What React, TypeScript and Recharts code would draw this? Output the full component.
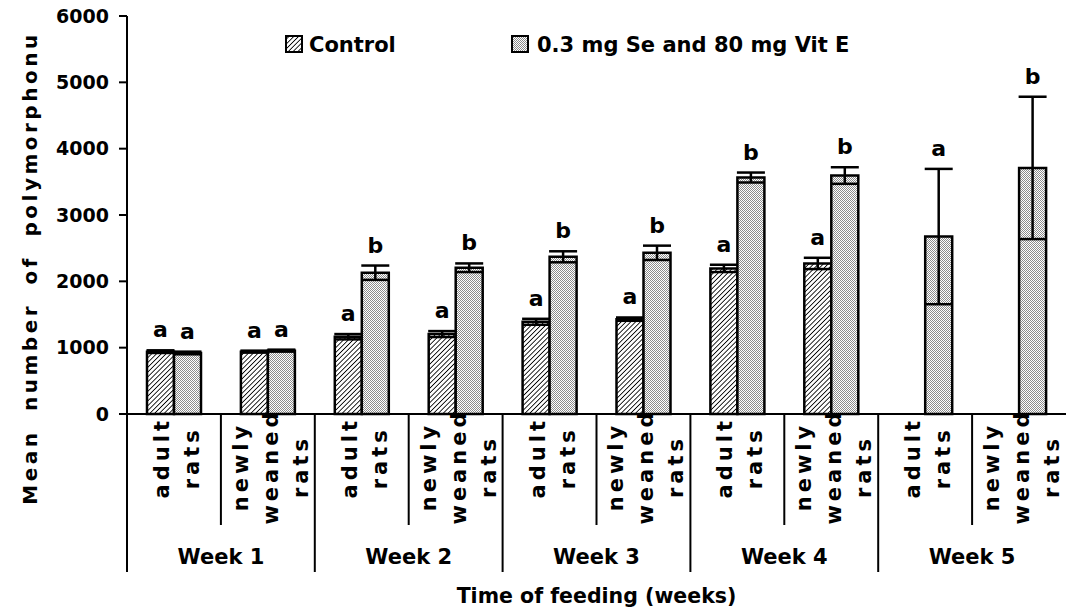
import React from 'react';
import { BarChart, Bar, XAxis, YAxis, ErrorBar, LabelList, Legend, Label } from 'recharts';

// the page has an 8px body margin by default, the chart should sit at 0,0
if (typeof document !== 'undefined') document.body.style.margin = '0';

const weeks = ['Week 1', 'Week 2', 'Week 3', 'Week 4', 'Week 5'];
const groups = ['adult rats', 'newly weaned rats'];

const control = [940, 940, 1165, 1205, 1390, 1430, 2195, 2270, null, null];
const controlErr = [20, 15, 40, 45, 45, 25, 55, 85, 0, 0];
const controlLetters = ['a', 'a', 'a', 'a', 'a', 'a', 'a', 'a', '', ''];

const treated = [920, 955, 2130, 2205, 2370, 2430, 3565, 3595, 2675, 3710];
const treatedErr = [20, 15, 108, 65, 83, 108, 75, 125, 1020, 1073];
const treatedLetters = ['a', 'a', 'b', 'b', 'b', 'b', 'b', 'b', 'a', 'b'];

const yTicks = [0, 1000, 2000, 3000, 4000, 5000, 6000];

const data = weeks.flatMap((week, wi) =>
  groups.map((group, gi) => {
    const i = wi * groups.length + gi;
    return {
      name: `${week}|${group}`,
      week,
      group,
      control: control[i],
      controlErr: controlErr[i],
      treated: treated[i],
      treatedErr: treatedErr[i],
    };
  })
);

const W = 1066;
const H = 612;
const Y_AXIS_W = 127;
const TOP = 16;
const X_AXIS_H = 198;
const FONT = '"DejaVu Sans", Verdana, sans-serif';
const BAND = (W - Y_AXIS_W) / data.length;

const CategoryTick = (props: any) => {
  const { x, y, payload } = props;
  const i = payload.index;
  const d = data[i];
  const left = x - BAND / 2;
  const lines = d.group.split(' ');
  const maxChars = Math.max(...lines.map((l: string) => l.length));
  const cy = y + (maxChars * 17.5) / 2;
  const isWeekStart = i % groups.length === 0;
  return (
    <g>
      <line
        x1={left}
        x2={left}
        y1={y}
        y2={isWeekStart ? y + 158 : y + 111}
        stroke="#000"
        strokeWidth={2}
      />
      {lines.map((line: string, j: number) => {
        const bx = x + 10 + (j - (lines.length - 1) / 2) * 30;
        return (
          <text
            key={j}
            x={bx}
            y={cy}
            transform={`rotate(-90 ${bx} ${cy})`}
            textAnchor="middle"
            fontFamily={FONT}
            fontWeight="bold"
            fontSize={21}
            letterSpacing={4}
            fill="#000"
          >
            {line}
          </text>
        );
      })}
      {!isWeekStart && (
        <text
          x={left}
          y={y + 150}
          textAnchor="middle"
          fontFamily={FONT}
          fontWeight="bold"
          fontSize={21}
          fill="#000"
        >
          {d.week}
        </text>
      )}
    </g>
  );
};

const letterContent = (values: (number | null)[], errs: number[], letters: string[]) => (props: any) => {
  const { x, y, width, height, index } = props;
  const v = values[index];
  if (!v || !letters[index]) return null;
  const errPx = (errs[index] * height) / v;
  return (
    <text
      x={x + width / 2}
      y={y - errPx - 13}
      textAnchor="middle"
      fontFamily={FONT}
      fontWeight="bold"
      fontSize={22}
      fill="#000"
    >
      {letters[index]}
    </text>
  );
};

const LegendContent = () => (
  <div style={{ position: 'relative', width: 600, height: 22, fontFamily: FONT, fontWeight: 'bold', fontSize: 21, lineHeight: '21px', whiteSpace: 'nowrap', color: '#000' }}>
    <svg width={18} height={18} style={{ position: 'absolute', left: 0, top: 0 }}>
      <rect x={1} y={1} width={16} height={16} fill="url(#hatch)" stroke="#000" strokeWidth={2} />
    </svg>
    <span style={{ position: 'absolute', left: 24, top: 0 }}>Control</span>
    <svg width={18} height={18} style={{ position: 'absolute', left: 226, top: 0 }}>
      <rect x={1} y={1} width={16} height={16} fill="url(#dots)" stroke="#000" strokeWidth={2} />
    </svg>
    <span style={{ position: 'absolute', left: 252, top: 0 }}>0.3 mg Se and 80 mg Vit E</span>
  </div>
);

export default function App() {
  return (
    <div style={{ width: W, height: H, background: '#fff' }}>
      <BarChart
        width={W}
        height={H}
        data={data}
        margin={{ top: TOP, right: 0, left: 0, bottom: 0 }}
        barGap={0}
        barSize={27}
      >
        <defs>
          <pattern id="hatch" width={3.4} height={3.4} patternUnits="userSpaceOnUse" patternTransform="rotate(45)">
            <rect width={3.4} height={3.4} fill="#fff" />
            <line x1={0} y1={0} x2={0} y2={3.4} stroke="#000" strokeWidth={1.7} />
          </pattern>
          <pattern id="dots" width={2} height={2} patternUnits="userSpaceOnUse">
            <rect width={2} height={2} fill="#fff" />
            <rect x={0} y={0} width={1} height={1} fill="#8c8c8c" />
            <rect x={1} y={1} width={1} height={1} fill="#8c8c8c" />
          </pattern>
        </defs>
        <XAxis
          dataKey="name"
          height={X_AXIS_H}
          interval={0}
          tickLine={false}
          tickSize={0}
          tickMargin={0}
          axisLine={{ stroke: '#000', strokeWidth: 2 }}
          tick={<CategoryTick />}
        >
          <Label
            content={(p: any) => {
              const vb = p.viewBox;
              return (
                <text x={vb.x + vb.width / 2} y={603} textAnchor="middle" fontFamily={FONT} fontWeight="bold" fontSize={20.5} fill="#000">
                  Time of feeding (weeks)
                </text>
              );
            }}
          />
        </XAxis>
        <YAxis
          width={Y_AXIS_W}
          domain={[0, 6000]}
          ticks={yTicks}
          interval={0}
          tickSize={8}
          tickMargin={10}
          axisLine={{ stroke: '#000', strokeWidth: 2 }}
          tickLine={{ stroke: '#000', strokeWidth: 2 }}
          tick={{ fill: '#000', fontFamily: FONT, fontWeight: 'bold', fontSize: 19 }}
        >
          <Label
            content={() => (
              <text
                x={37}
                y={268}
                transform="rotate(-90 37 268)"
                textAnchor="middle"
                fontFamily={FONT}
                fontWeight="bold"
                fontSize={20}
                letterSpacing={3.5}
                wordSpacing={8}
                fill="#000"
              >
                Mean number of polymorphonu
              </text>
            )}
          />
        </YAxis>
        <Legend
          layout="horizontal"
          verticalAlign="middle"
          align="center"
          wrapperStyle={{ top: 35, left: 285, width: 600, height: 22 }}
          content={<LegendContent />}
        />
        <Bar dataKey="control" fill="url(#hatch)" stroke="#000" strokeWidth={2.5} isAnimationActive={false}>
          <ErrorBar dataKey="controlErr" width={14} strokeWidth={2.5} stroke="#000" />
          <LabelList dataKey="control" content={letterContent(control, controlErr, controlLetters)} />
        </Bar>
        <Bar dataKey="treated" fill="url(#dots)" stroke="#000" strokeWidth={2.5} isAnimationActive={false}>
          <ErrorBar dataKey="treatedErr" width={14} strokeWidth={2.5} stroke="#000" />
          <LabelList dataKey="treated" content={letterContent(treated, treatedErr, treatedLetters)} />
        </Bar>
      </BarChart>
    </div>
  );
}
